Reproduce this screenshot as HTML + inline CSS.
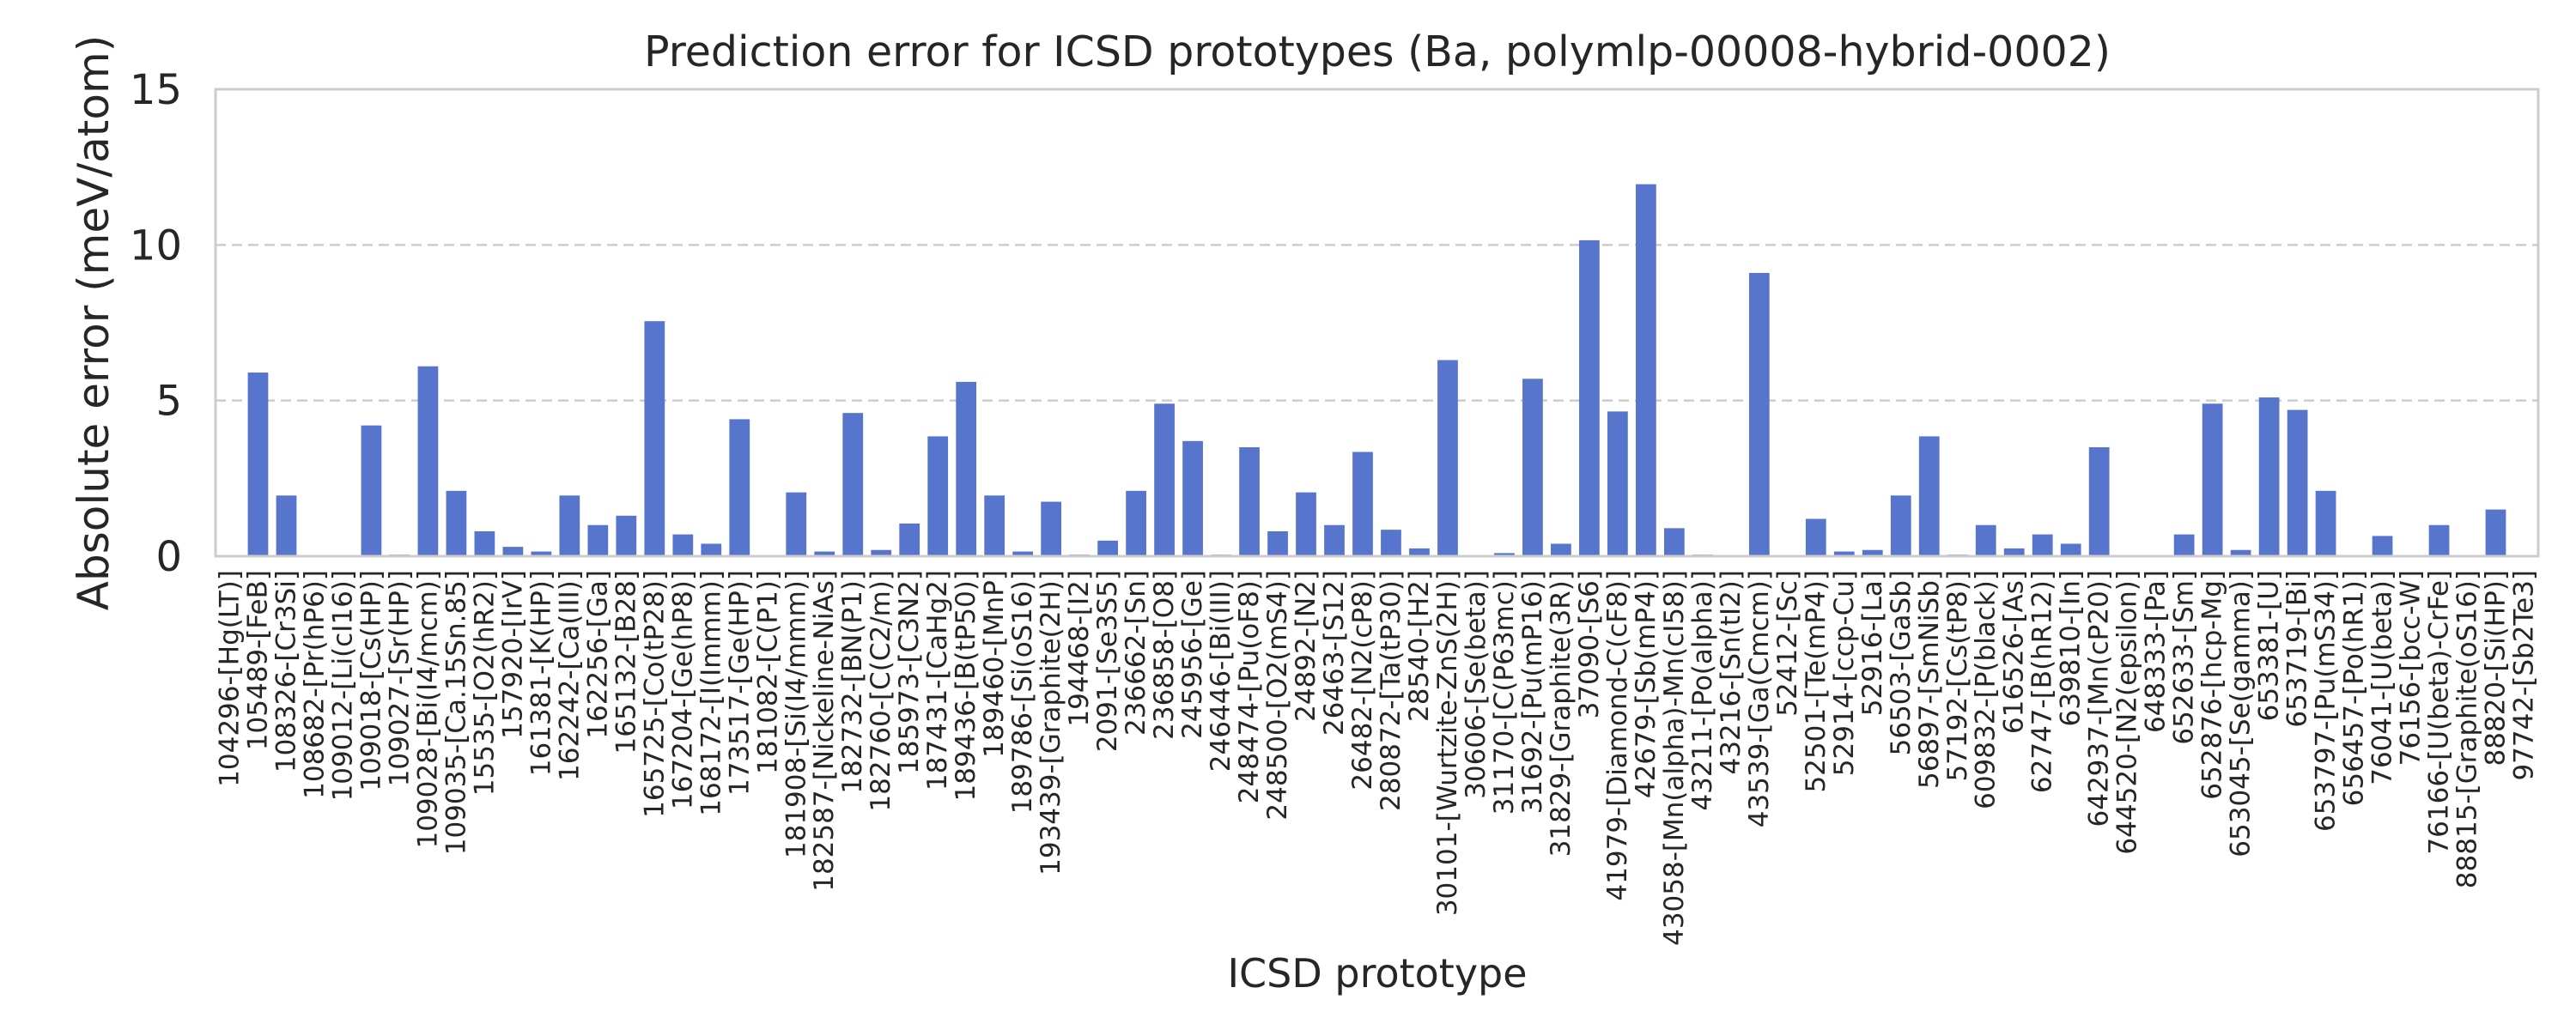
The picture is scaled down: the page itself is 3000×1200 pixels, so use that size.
<!DOCTYPE html>
<html><head><meta charset="utf-8"><style>
html,body{margin:0;padding:0;background:#fff}
svg{display:block}
text{font-family:"DejaVu Sans","Liberation Sans",sans-serif;fill:#262626}
</style></head><body>
<svg id="chart" width="3000" height="1200" viewBox="0 0 3000 1200">
<text x="1604" y="77" font-size="49" text-anchor="middle">Prediction error for ICSD prototypes (Ba, polymlp-00008-hybrid-0002)</text>
<text transform="translate(126,376) rotate(-90)" font-size="50" text-anchor="middle">Absolute error (meV/atom)</text>
<text x="1604" y="1150" font-size="46" text-anchor="middle">ICSD prototype</text>
<g id="grid"></g><g id="bars"></g><g id="yticks"></g><g id="xticks"></g>
<rect x="251" y="104" width="2705" height="544" fill="none" stroke="#cccccc" stroke-width="3"/>
</svg>
<script>
const categories=["104296-[Hg(LT)]","105489-[FeB]","108326-[Cr3Si]","108682-[Pr(hP6)]","109012-[Li(cI16)]","109018-[Cs(HP)]","109027-[Sr(HP)]","109028-[Bi(I4/mcm)]","109035-[Ca.15Sn.85]","15535-[O2(hR2)]","157920-[IrV]","161381-[K(HP)]","162242-[Ca(III)]","162256-[Ga]","165132-[B28]","165725-[Co(tP28)]","167204-[Ge(hP8)]","168172-[I(Immm)]","173517-[Ge(HP)]","181082-[C(P1)]","181908-[Si(I4/mmm)]","182587-[Nickeline-NiAs]","182732-[BN(P1)]","182760-[C(C2/m)]","185973-[C3N2]","187431-[CaHg2]","189436-[B(tP50)]","189460-[MnP]","189786-[Si(oS16)]","193439-[Graphite(2H)]","194468-[I2]","2091-[Se3S5]","236662-[Sn]","236858-[O8]","245956-[Ge]","246446-[Bi(III)]","248474-[Pu(oF8)]","248500-[O2(mS4)]","24892-[N2]","26463-[S12]","26482-[N2(cP8)]","280872-[Ta(tP30)]","28540-[H2]","30101-[Wurtzite-ZnS(2H)]","30606-[Se(beta)]","31170-[C(P63mc)]","31692-[Pu(mP16)]","31829-[Graphite(3R)]","37090-[S6]","41979-[Diamond-C(cF8)]","42679-[Sb(mP4)]","43058-[Mn(alpha)-Mn(cI58)]","43211-[Po(alpha)]","43216-[Sn(tI2)]","43539-[Ga(Cmcm)]","52412-[Sc]","52501-[Te(mP4)]","52914-[ccp-Cu]","52916-[La]","56503-[GaSb]","56897-[SmNiSb]","57192-[Cs(tP8)]","609832-[P(black)]","616526-[As]","62747-[B(hR12)]","639810-[In]","642937-[Mn(cP20)]","644520-[N2(epsilon)]","648333-[Pa]","652633-[Sm]","652876-[hcp-Mg]","653045-[Se(gamma)]","653381-[U]","653719-[Bi]","653797-[Pu(mS34)]","656457-[Po(hR1)]","76041-[U(beta)]","76156-[bcc-W]","76166-[U(beta)-CrFe]","88815-[Graphite(oS16)]","88820-[Si(HP)]","97742-[Sb2Te3]"];
const errors=[0,5.9,1.95,0,0,4.2,0.05,6.1,2.1,0.8,0.3,0.15,1.95,1.0,1.3,7.55,0.7,0.4,4.4,0,2.05,0.15,4.6,0.2,1.05,3.85,5.6,1.95,0.15,1.75,0.05,0.5,2.1,4.9,3.7,0.05,3.5,0.8,2.05,1.0,3.35,0.85,0.25,6.3,0,0.1,5.7,0.4,10.15,4.65,11.95,0.9,0.05,0,9.1,0,1.2,0.15,0.2,1.95,3.85,0.05,1.0,0.25,0.7,0.4,3.5,0,0,0.7,4.9,0.2,5.1,4.7,2.1,0,0.65,0,1.0,0,1.5,0];
const yTicks=[0,5,10,15];
const NS="http://www.w3.org/2000/svg";
const L=251,R=2956,T=104,B=648,yMax=15;
const band=(R-L)/categories.length;
function x(i){return L+(i+0.5)*band;}
function y(v){return B-(v/yMax)*(B-T);}
function mk(tag,attrs,parent){const e=document.createElementNS(NS,tag);for(const k in attrs)e.setAttribute(k,attrs[k]);parent.appendChild(e);return e;}
const grid=document.getElementById('grid'),bars=document.getElementById('bars'),yt=document.getElementById('yticks'),xt=document.getElementById('xticks');
yTicks.forEach(t=>{
  if(t>0&&t<yMax){const g=mk('line',{x1:L,x2:R,y1:y(t),y2:y(t),stroke:'#cccccc','stroke-width':2.5,'stroke-dasharray':'12,7'},grid);
  
  }
  const tx=mk('text',{x:212,y:y(t)+17,'font-size':48,'text-anchor':'end'},yt);tx.textContent=t;
  
  
});
const bw=band*0.72;
errors.forEach((v,i)=>{
  const r=mk('rect',{x:x(i)-bw/2,y:y(v),width:bw,height:B-y(v),fill:'#5875cd'},bars);
  
  
});
categories.forEach((c,i)=>{
  const tx=mk('text',{transform:`translate(${x(i)+10},664) rotate(-90)`,'font-size':31,'text-anchor':'end'},xt);
  tx.textContent=c;
  
  
});
</script>
</body></html>
